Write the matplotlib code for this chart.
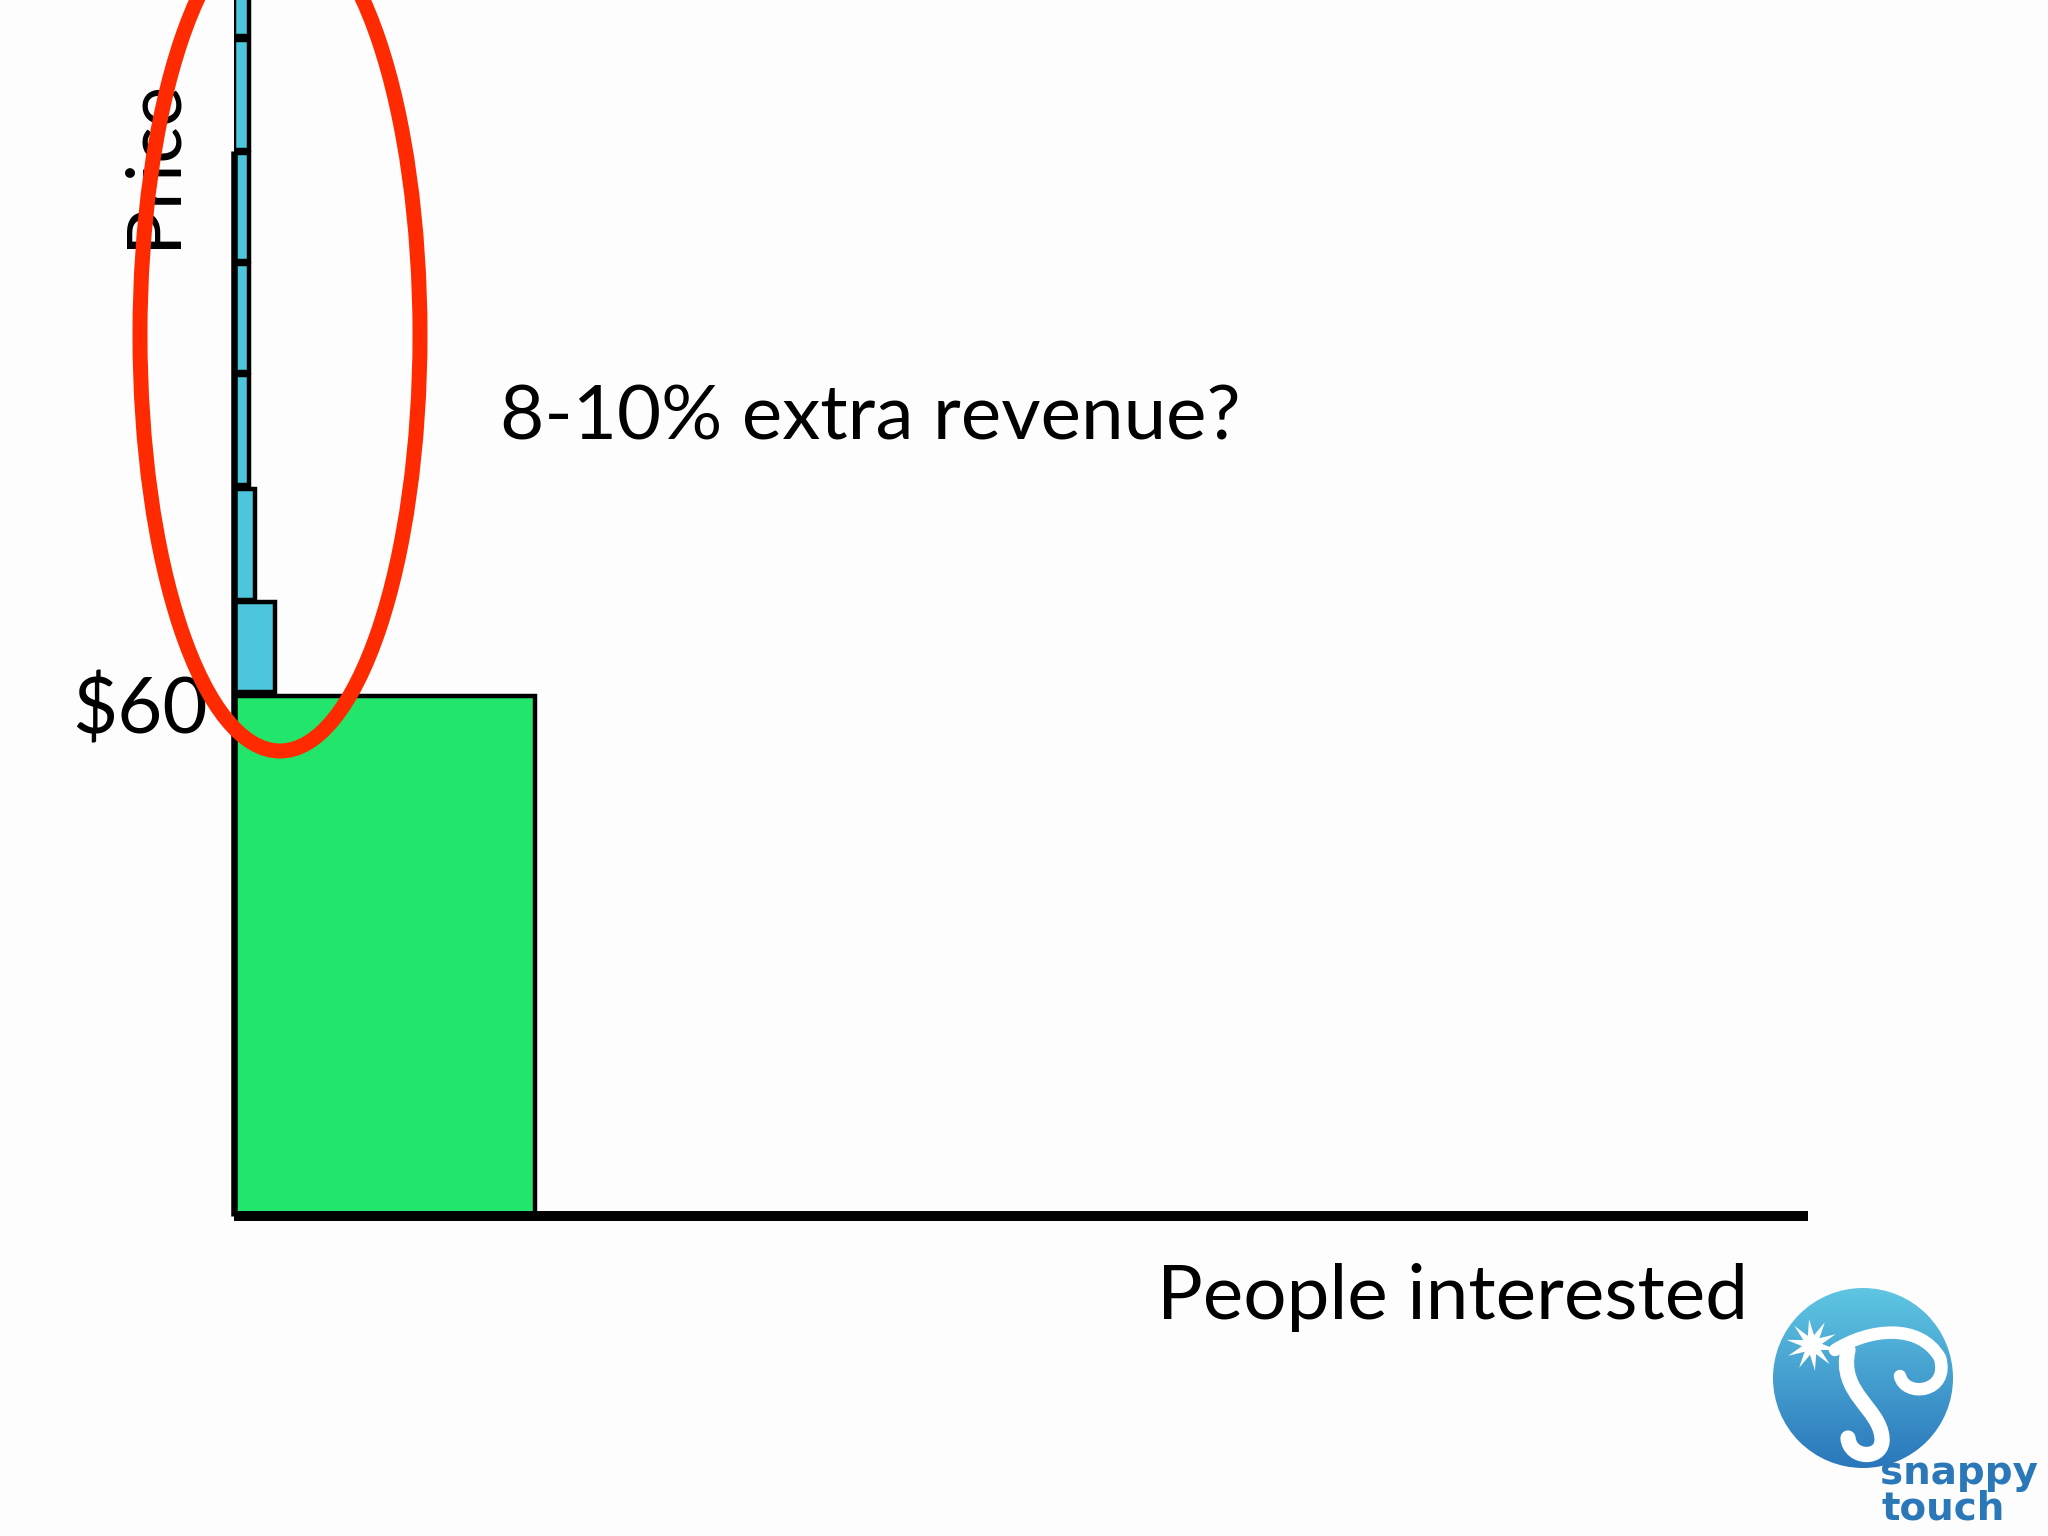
import matplotlib
matplotlib.use("Agg")
import matplotlib.pyplot as plt
from matplotlib.patches import Ellipse, Circle, Polygon
from matplotlib.path import Path
from matplotlib.patches import PathPatch
from matplotlib.colors import LinearSegmentedColormap
import numpy as np

# ---------------- data ----------------
base_price = 60.0            # "$60" level (green block)
base_people = 100.0          # people willing to pay the base price
extra_bottoms = [60.5, 71.1, 84.3, 97.4, 110.2, 123.0, 136.1]   # price bands above $60
extra_tops = [70.8, 83.9, 97.0, 109.8, 122.6, 135.7, 149.0]
extra_people = [13.6, 7.0, 5.0, 5.0, 5.0, 5.0, 5.0]
price_axis_top = 122.9
people_axis_end = 523.0
price_label = "$60"
title_text = "8-10% extra revenue?"
x_label = "People interested"
y_label = "Price"

# ---------------- figure ----------------
W, H = 2048, 1536
BG = "#fdfdfd"
FONT = ["Lato", "DejaVu Sans"]
FS = 55
fig = plt.figure(figsize=(W / 100, H / 100), dpi=100, facecolor=BG)

px_per_person = 3.01
px_per_dollar = 8.667
ax_left_px, ax_bottom_px = 234, 1216
ax = fig.add_axes([ax_left_px / W, (H - ax_bottom_px) / H,
                   (W - ax_left_px) / W, ax_bottom_px / H])
ax.set_facecolor("none")
ax.set_xlim(0, (W - ax_left_px) / px_per_person)
ax.set_ylim(0, ax_bottom_px / px_per_dollar)

edge_lw = 3.2
ax.bar(0, base_price, width=base_people, align="edge", color="#22e66c",
       edgecolor="black", linewidth=edge_lw, zorder=2)
heights = [t - b for t, b in zip(extra_tops, extra_bottoms)]
ax.bar([0] * len(extra_people), heights, width=extra_people, bottom=extra_bottoms,
       align="edge", color="#4cc5dd", edgecolor="black", linewidth=edge_lw, zorder=2)

for s in ["top", "right"]:
    ax.spines[s].set_visible(False)
ax.spines["left"].set_bounds(0, price_axis_top)
ax.spines["left"].set_linewidth(4.7)
ax.spines["bottom"].set_bounds(0, people_axis_end)
ax.spines["bottom"].set_linewidth(7.2)
for s in ["left", "bottom"]:
    ax.spines[s].set_zorder(3)
    ax.spines[s].set_capstyle("butt")
ax.set_xticks([])
ax.set_yticks([])

ax.annotate(price_label, xy=(0, base_price), xytext=(-19, -11),
            textcoords="offset points", ha="right", va="center",
            fontsize=FS + 1, family=FONT, color="black", annotation_clip=False)

# ---------------- overlay (pixel coordinates) ----------------
ov = fig.add_axes([0, 0, 1, 1], facecolor="none")
ov.set_xlim(0, W)
ov.set_ylim(H, 0)
ov.axis("off")

ov.text(175, 248, y_label, rotation=90, ha="left", va="baseline",
        rotation_mode="anchor", fontsize=FS, family=FONT, color="black", zorder=2)
ov.text(500, 439, title_text, ha="left", va="baseline", fontsize=FS,
        family=FONT, color="black", zorder=2)
ov.text(1748, 1319, x_label, ha="right", va="baseline", fontsize=FS,
        family=FONT, color="black", zorder=2)

ov.add_patch(Ellipse((280, 335), width=280, height=832, fill=False,
                     edgecolor="#ff2a00", linewidth=10.8, zorder=5))

# ---------------- logo ----------------
cx, cy, r = 1863, 1378, 90
grad = np.linspace(0, 1, 256).reshape(-1, 1)
cmap = LinearSegmentedColormap.from_list("lg", ["#5fc6e3", "#2a77bb"])
im = ov.imshow(grad, extent=(cx - r, cx + r, cy + r, cy - r), cmap=cmap,
               aspect="auto", zorder=3, origin="upper")
clip = Circle((cx, cy), r, transform=ov.transData, facecolor="none", edgecolor="none")
ov.add_patch(clip)
im.set_clip_path(clip)

# star
sx, sy = 1812, 1345
ang = np.linspace(0, 2 * np.pi, 21)[:-1] + 0.2
rad = np.where(np.arange(20) % 2 == 0, 26, 10)
star = np.column_stack([sx + rad * np.cos(ang), sy + rad * np.sin(ang)])
ov.add_patch(Polygon(star, closed=True, facecolor="white", edgecolor="none", zorder=4,
                     clip_path=clip))

# wave
codes = [Path.MOVETO, Path.CURVE4, Path.CURVE4, Path.CURVE4,
         Path.CURVE4, Path.CURVE4, Path.CURVE4]
verts = [(1835, 1350), (1870, 1328), (1920, 1323), (1940, 1358),
         (1950, 1393), (1905, 1398), (1900, 1376)]
wave = PathPatch(Path(verts, codes), fill=False, edgecolor="white", linewidth=9,
                 capstyle="round", zorder=4)
ov.add_patch(wave)
wave.set_clip_path(clip)
verts2 = [(1848, 1350), (1838, 1393), (1880, 1408), (1882, 1438),
          (1884, 1460), (1850, 1460), (1848, 1438)]
stem = PathPatch(Path(verts2, codes), fill=False, edgecolor="white", linewidth=11,
                 capstyle="round", zorder=4)
ov.add_patch(stem)
stem.set_clip_path(clip)

ov.text(1880, 1484, "snappy", ha="left", va="baseline", fontsize=28,
        family=["DejaVu Sans"], fontweight="bold", color="#2b78b8", zorder=6)
ov.text(1882, 1519, "touch", ha="left", va="baseline", fontsize=28,
        family=["DejaVu Sans"], fontweight="bold", color="#2b78b8", zorder=6)

fig.savefig("out.png", dpi=100, facecolor=BG)
